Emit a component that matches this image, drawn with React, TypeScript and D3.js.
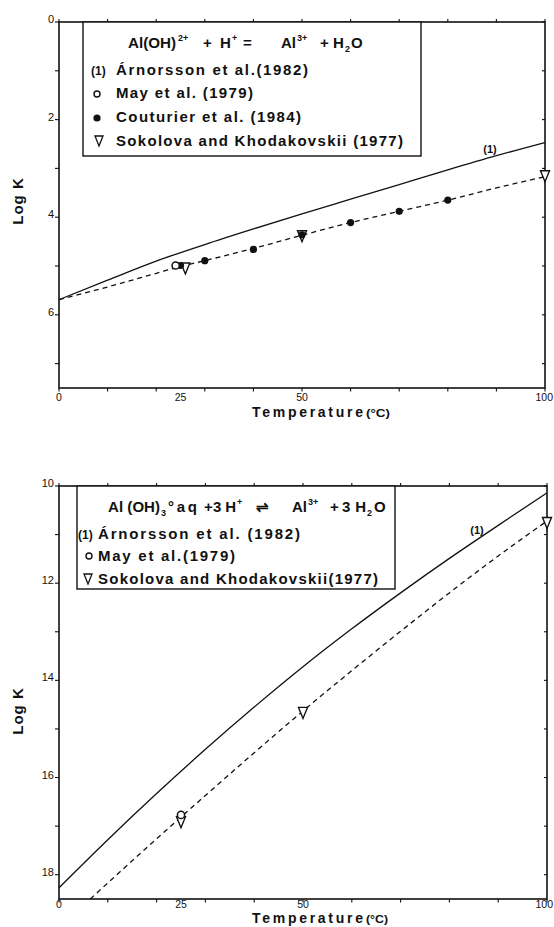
import React from 'react';
import * as d3 from 'd3';

// ---------- shared ----------
const xMinorTicks = [0, 10, 20, 30, 40, 50, 60, 70, 80, 90, 100];
const xTickLabels = [0, 25, 50, 100];

// ---------- Panel A : Al(OH)2+ ----------
const aYMinorTicks = [0, 1, 2, 3, 4, 5, 6, 7];
const aYTickLabels = [0, 2, 4, 6];
const aArnT = [0, 10, 20, 30, 40, 50, 60, 70, 80, 90, 100];
const aArn = [5.69, 5.29, 4.9, 4.56, 4.24, 3.93, 3.63, 3.33, 3.03, 2.74, 2.47];
const aFitT = [0, 10, 20, 25, 30, 40, 50, 60, 70, 80, 90, 100];
const aFit = [5.69, 5.43, 5.15, 5.01, 4.89, 4.64, 4.37, 4.11, 3.88, 3.65, 3.4, 3.17];
const aMayT = [24];
const aMay = [4.99];
const aCoutT = [25, 30, 40, 50, 60, 70, 80];
const aCout = [4.99, 4.89, 4.66, 4.36, 4.11, 3.88, 3.65];
const aSokT = [26, 50, 100];
const aSok = [5.05, 4.39, 3.16];

// ---------- Panel B : Al(OH)3 aq ----------
const bYMinorTicks = [10, 11, 12, 13, 14, 15, 16, 17, 18];
const bYTickLabels = [10, 12, 14, 16, 18];
const bArnT = [0, 10, 20, 30, 40, 50, 60, 70, 80, 90, 100];
const bArn = [18.27, 17.28, 16.33, 15.42, 14.55, 13.72, 12.94, 12.2, 11.49, 10.81, 10.14];
const bFitT = [6.4, 10, 20, 30, 40, 50, 60, 70, 80, 90, 100];
const bFit = [18.5, 18.17, 17.26, 16.37, 15.49, 14.63, 13.8, 12.99, 12.2, 11.44, 10.72];
const bMayT = [25];
const bMay = [16.77];
const bSokT = [25, 50, 100];
const bSok = [16.92, 14.67, 10.76];

const FONT = "'Liberation Sans', Arial, sans-serif";
const INK = '#111';

function tri(cx: number, cy: number, w: number, h: number) {
  return `M${cx - w / 2},${cy - h / 2}L${cx + w / 2},${cy - h / 2}L${cx},${cy + h / 2}Z`;
}

type PanelProps = {
  top: number;
  bottom: number;
  left: number;
  right: number;
  domain: [number, number];
  minor: number[];
  labels: number[];
  arnT: number[];
  arn: number[];
  fitT: number[];
  fit: number[];
  mayT: number[];
  may: number[];
  coutT?: number[];
  cout?: number[];
  sokT: number[];
  sok: number[];
  xLabelY: number;
  tempY: number;
  logKY: number;
  tempEnd: number;
  curveLabel: [number, number];
};

function Panel(p: PanelProps) {
  const x = d3.scaleLinear().domain([0, 100]).range([p.left, p.right]);
  const y = d3.scaleLinear().domain(p.domain).range([p.top, p.bottom]);
  const line = d3
    .line<[number, number]>()
    .x((d) => x(d[0]))
    .y((d) => y(d[1]))
    .curve(d3.curveMonotoneX);
  const arnPts = p.arnT.map((t, i) => [t, p.arn[i]] as [number, number]);
  const fitPts = p.fitT.map((t, i) => [t, p.fit[i]] as [number, number]);
  return (
    <g>
      {/* frame */}
      <rect x={p.left} y={p.top} width={p.right - p.left} height={p.bottom - p.top} fill="none" stroke={INK} strokeWidth={1.6} />
      {/* x ticks */}
      {xMinorTicks.map((t) => (
        <g key={'xt' + t}>
          <line x1={x(t)} x2={x(t)} y1={p.bottom} y2={p.bottom + 3.5} stroke={INK} strokeWidth={1.1} />
          <line x1={x(t)} x2={x(t)} y1={p.top} y2={p.top - 3} stroke={INK} strokeWidth={1.1} />
        </g>
      ))}
      {xTickLabels.map((t) => (
        <text
          key={'xl' + t}
          x={t === 100 ? 553 : x(t)}
          y={p.xLabelY}
          textAnchor={t === 100 ? 'end' : 'middle'}
          fontFamily={FONT}
          fontSize={10.5}
          fill={INK}
        >
          {t}
        </text>
      ))}
      {/* y ticks */}
      {p.minor.map((v) => (
        <g key={'yt' + v}>
          <line x1={p.left} x2={p.left - 4} y1={y(v)} y2={y(v)} stroke={INK} strokeWidth={1.1} />
          <line x1={p.right} x2={p.right - 3} y1={y(v)} y2={y(v)} stroke={INK} strokeWidth={1.1} />
        </g>
      ))}
      {p.labels.map((v) => (
        <text key={'yl' + v} x={p.left - 5} y={y(v) + 1} textAnchor="end" fontFamily={FONT} fontSize={11} fill={INK}>
          {v}
        </text>
      ))}
      {/* axis titles */}
      <text
        transform={`translate(23,${p.logKY}) rotate(-90)`}
        textAnchor="middle"
        fontFamily={FONT}
        fontSize={15}
        fontWeight="bold"
        letterSpacing={1}
        fill={INK}
      >
        Log K
      </text>
      <text x={252} y={p.tempY} fontFamily={FONT} fontSize={14} fontWeight="bold" fill={INK} textLength={111} lengthAdjust="spacing">
        Temperature
      </text>
      <text x={366} y={p.tempY} fontFamily={FONT} fontSize={11} fontWeight="bold" fill={INK} textLength={p.tempEnd - 366} lengthAdjust="spacingAndGlyphs">
        (°C)
      </text>
      {/* curves */}
      <path d={line(arnPts) || ''} fill="none" stroke={INK} strokeWidth={1.3} />
      <path d={line(fitPts) || ''} fill="none" stroke={INK} strokeWidth={1.3} strokeDasharray="5,4" />
      <text x={p.curveLabel[0]} y={p.curveLabel[1]} textAnchor="middle" fontFamily={FONT} fontSize={11} fontWeight="bold" fill={INK}>
        (1)
      </text>
      {/* points */}
      {p.sokT.map((t, i) => (
        <path key={'s' + i} d={tri(x(t), y(p.sok[i]), 9, 11)} fill="white" stroke={INK} strokeWidth={1.4} />
      ))}
      {(p.coutT || []).map((t, i) => (
        <circle key={'c' + i} cx={x(t)} cy={y((p.cout as number[])[i])} r={3.6} fill={INK} />
      ))}
      {p.mayT.map((t, i) => (
        <circle key={'m' + i} cx={x(t)} cy={y(p.may[i])} r={3.6} fill="white" stroke={INK} strokeWidth={1.5} />
      ))}
    </g>
  );
}

const legTxt = { fontFamily: FONT, fontWeight: 'bold' as const, fill: INK };

export default function App() {
  return (
    <svg
      width={554}
      height={927}
      style={{ position: 'absolute', left: 0, top: 0, background: 'white' }}
    >
      <rect width={554} height={927} fill="white" />
      <Panel
        top={22}
        bottom={388}
        left={59}
        right={545}
        domain={[0, 7.5]}
        minor={aYMinorTicks}
        labels={aYTickLabels}
        arnT={aArnT}
        arn={aArn}
        fitT={aFitT}
        fit={aFit}
        mayT={aMayT}
        may={aMay}
        coutT={aCoutT}
        cout={aCout}
        sokT={aSokT}
        sok={aSok}
        xLabelY={401}
        tempY={417}
        logKY={201}
        tempEnd={390}
        curveLabel={[490, 153]}
      />
      <Panel
        top={486}
        bottom={899}
        left={59}
        right={547}
        domain={[10, 18.5]}
        minor={bYMinorTicks}
        labels={bYTickLabels}
        arnT={bArnT}
        arn={bArn}
        fitT={bFitT}
        fit={bFit}
        mayT={bMayT}
        may={bMay}
        sokT={bSokT}
        sok={bSok}
        xLabelY={908}
        tempY={923}
        logKY={711}
        tempEnd={388}
        curveLabel={[477, 534]}
      />

      {/* ---------- Legend A ---------- */}
      <rect x={83} y={22} width={338} height={134} fill="white" stroke={INK} strokeWidth={1.4} />
      <g {...legTxt} fontSize={15}>
        <text x={128} y={48} textLength={48} lengthAdjust="spacingAndGlyphs">Al(OH)</text>
        <text x={178} y={41} fontSize={9}>2+</text>
        <text x={203} y={48}>+</text>
        <text x={220} y={48}>H</text>
        <text x={232} y={41} fontSize={9}>+</text>
        <text x={243} y={48}>=</text>
        <text x={281} y={48}>Al</text>
        <text x={297} y={41} fontSize={9}>3+</text>
        <text x={320} y={48}>+</text>
        <text x={333} y={48}>H</text>
        <text x={345} y={52} fontSize={9}>2</text>
        <text x={351} y={48}>O</text>

        <text x={91} y={75} fontSize={12}>(1)</text>
        <text x={116} y={75} textLength={192} lengthAdjust="spacing">Árnorsson et al.(1982)</text>
        <text x={116} y={98} textLength={137} lengthAdjust="spacing">May et al. (1979)</text>
        <text x={116} y={122} textLength={185} lengthAdjust="spacing">Couturier et al. (1984)</text>
        <text x={116} y={146} textLength={287} lengthAdjust="spacing">Sokolova and Khodakovskii (1977)</text>
      </g>
      <circle cx={97} cy={94} r={3} fill="white" stroke={INK} strokeWidth={1.4} />
      <circle cx={97} cy={118} r={3.6} fill={INK} />
      <path d={tri(99, 141, 8, 10)} fill="white" stroke={INK} strokeWidth={1.3} />

      {/* ---------- Legend B ---------- */}
      <rect x={77} y={486} width={318} height={103} fill="white" stroke={INK} strokeWidth={1.4} />
      <g {...legTxt} fontSize={15}>
        <text x={108} y={512} textLength={52} lengthAdjust="spacing">Al (OH)</text>
        <text x={161} y={516} fontSize={9}>3</text>
        <text x={168} y={512} textLength={29} lengthAdjust="spacing">°aq</text>
        <text x={204} y={512}>+</text>
        <text x={213} y={512} textLength={23} lengthAdjust="spacing">3H</text>
        <text x={237} y={505} fontSize={9}>+</text>
        <text x={256} y={512}>⇌</text>
        <text x={292} y={512}>Al</text>
        <text x={308} y={505} fontSize={9}>3+</text>
        <text x={330} y={512}>+</text>
        <text x={342} y={512} textLength={24} lengthAdjust="spacing">3H</text>
        <text x={367} y={516} fontSize={9}>2</text>
        <text x={374} y={512}>O</text>

        <text x={78} y={539} fontSize={12}>(1)</text>
        <text x={98} y={539} textLength={202} lengthAdjust="spacing">Árnorsson et al. (1982)</text>
        <text x={98} y={561} textLength={137} lengthAdjust="spacing">May et al.(1979)</text>
        <text x={98} y={584} textLength={280} lengthAdjust="spacing">Sokolova and Khodakovskii(1977)</text>
      </g>
      <circle cx={89} cy={556} r={3} fill="white" stroke={INK} strokeWidth={1.4} />
      <path d={tri(88, 579, 8, 10)} fill="white" stroke={INK} strokeWidth={1.3} />
    </svg>
  );
}
